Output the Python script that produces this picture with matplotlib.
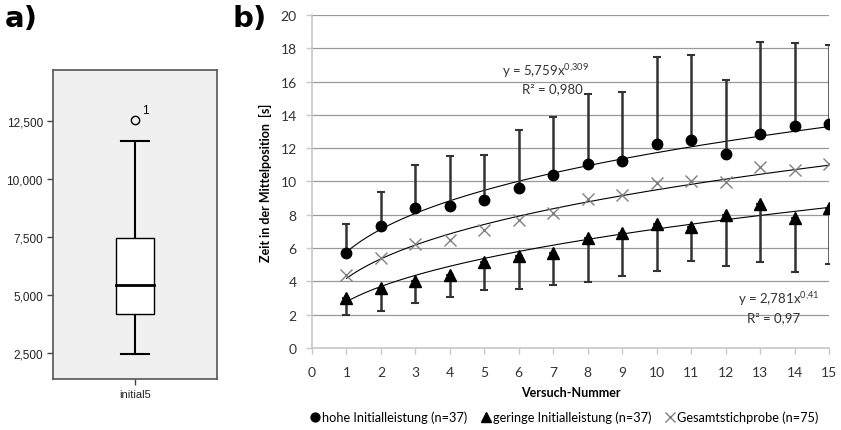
import numpy as np
import matplotlib.pyplot as plt

plt.rcParams['mathtext.fontset'] = 'custom'
plt.rcParams['mathtext.rm'] = 'Lato'
plt.rcParams['mathtext.it'] = 'Lato'

# panel a) boxplot summary of initial5
box_q1, box_med, box_q3 = 4190, 5440, 7440
whisk_lo, whisk_hi = 2460, 11610
outlier = 12540
a_ticks = [2500, 5000, 7500, 10000, 12500]
a_ticklabels = ['2,500', '5,000', '7,500', '10,000', '12,500']

# panel b) trial means
trial = np.arange(1, 16)
high = [5.72, 7.3, 8.42, 8.55, 8.9, 9.58, 10.4, 11.06, 11.26, 12.26, 12.5, 11.68, 12.83, 13.31, 13.45]
high_up = [7.46, 9.38, 10.98, 11.56, 11.58, 13.11, 13.88, 15.25, 15.35, 17.5, 17.6, 16.07, 18.38, 18.34, 18.19]
low = [2.98, 3.6, 4.0, 4.37, 5.17, 5.5, 5.72, 6.59, 6.89, 7.44, 7.29, 7.99, 8.65, 7.83, 8.4]
low_dn = [1.99, 2.2, 2.68, 3.05, 3.49, 3.57, 3.79, 3.97, 4.33, 4.63, 5.21, 4.95, 5.17, 4.55, 5.05]
total = [4.37, 5.39, 6.23, 6.47, 7.07, 7.66, 8.13, 8.96, 9.16, 9.92, 10.02, 9.96, 10.88, 10.68, 11.04]

# power-law fits shown on the chart
fit_high = (5.759, 0.309)
fit_low = (2.781, 0.41)

fig = plt.figure(figsize=(8.41, 4.31), dpi=100)

# ---- a) ----
axa = fig.add_axes([0.0634, 0.1183, 0.195, 0.717])
axa.set_facecolor('#f0f0f0')
bx = 1.0
bw = 0.23
axa.add_patch(plt.Rectangle((bx - bw / 2, box_q1), bw, box_q3 - box_q1,
                            facecolor='white', edgecolor='black', lw=1.0, zorder=3))
axa.plot([bx - bw / 2, bx + bw / 2], [box_med, box_med], color='black', lw=2, zorder=4)
axa.plot([bx, bx], [box_q3, whisk_hi], color='black', lw=1.5)
axa.plot([bx, bx], [whisk_lo, box_q1], color='black', lw=1.5)
axa.plot([bx - 0.085, bx + 0.085], [whisk_hi, whisk_hi], color='black', lw=1.5)
axa.plot([bx - 0.085, bx + 0.085], [whisk_lo, whisk_lo], color='black', lw=1.5)
axa.plot([bx], [outlier], 'o', mfc='none', mec='black', ms=6, mew=1)
axa.text(bx + 0.04, outlier + 150, '1', fontsize=8.5, family='Liberation Sans', va='bottom')
axa.set_xlim(0.5, 1.5)
axa.set_ylim(1380, 14680)
axa.set_yticks(a_ticks)
axa.set_yticklabels(a_ticklabels, fontsize=8.5, family='Liberation Sans', color='#222222')
axa.set_xticks([bx])
axa.set_xticklabels(['initial5'], fontsize=8, family='Liberation Sans', color='#222222')
axa.tick_params(length=4, width=1, color='#444444')
for s in axa.spines.values():
    s.set_color('#555555')
    s.set_linewidth(1.2)

fig.text(0.006, 0.988, 'a)', fontsize=21, fontweight='bold', va='top',
         family=['Liberation Sans Narrow', 'DejaVu Sans'])
fig.text(0.276, 0.988, 'b)', fontsize=21, fontweight='bold', va='top',
         family=['Liberation Sans Narrow', 'DejaVu Sans'])

# ---- b) ----
fnt = 'Lato'
axb = fig.add_axes([0.371, 0.1903, 0.6147, 0.7726])
axb.set_xlim(0, 15)
axb.set_ylim(0, 20)
axb.set_yticks(range(0, 21, 2))
axb.set_xticks(range(0, 16))
axb.grid(axis='y', color='#999999', lw=0.9)
axb.set_axisbelow(True)
for s in ['top', 'right']:
    axb.spines[s].set_visible(False)
for s in ['left', 'bottom']:
    axb.spines[s].set_color('#c8c8c8')
    axb.spines[s].set_linewidth(1.2)
axb.tick_params(length=4, width=1, color='#c8c8c8', labelsize=10, labelcolor='#333333')
axb.tick_params(axis='x', pad=9)
axb.tick_params(axis='y', pad=7)
for lab in axb.get_xticklabels() + axb.get_yticklabels():
    lab.set_family(fnt)

high = np.array(high)
low = np.array(low)
xs = np.linspace(1, 15, 200)

# trend lines
axb.plot(xs, fit_high[0] * xs ** fit_high[1], color='black', lw=0.8, zorder=2)
axb.plot(xs, fit_low[0] * xs ** fit_low[1], color='black', lw=0.8, zorder=2)
b, loga = np.polyfit(np.log(trial), np.log(total), 1)
axb.plot(xs, np.exp(loga) * xs ** b, color='black', lw=0.8, zorder=2)

# error bars
axb.errorbar(trial, high, yerr=[np.zeros(15), np.array(high_up) - high], fmt='none',
             ecolor='#333333', elinewidth=1.8, capsize=3, capthick=1.5, zorder=3)
axb.errorbar(trial, low, yerr=[low - np.array(low_dn), np.zeros(15)], fmt='none',
             ecolor='#333333', elinewidth=1.8, capsize=3, capthick=1.5, zorder=3)

h1, = axb.plot(trial, high, 'o', color='black', ms=7.5, zorder=4, ls='none')
h2, = axb.plot(trial, low, '^', color='black', ms=8, zorder=4, ls='none')
h3, = axb.plot(trial, total, 'x', color='#808080', ms=8, mew=1.0, zorder=4, ls='none')

eq = dict(fontsize=9.5, family=fnt, color='#333333')
axb.text(5.5, 16.4, r'y = 5,759x$^{\mathregular{0{,}309}}$', ha='left', **eq)
axb.text(7.85, 15.35, 'R² = 0,980', ha='right', **eq)
axb.text(12.35, 2.7, r'y = 2,781x$^{\mathregular{0{,}41}}$', ha='left', **eq)
axb.text(14.15, 1.6, 'R² = 0,97', ha='right', **eq)

axb.set_ylabel('Zeit in der Mittelposition  [s]', fontsize=9, fontweight='bold', family=fnt, labelpad=6)
axb.set_xlabel('Versuch-Nummer', fontsize=9, fontweight='bold', family=fnt, labelpad=6)

fig.legend([h1, h2, h3],
           ['hohe Initialleistung (n=37)', 'geringe Initialleistung (n=37)', 'Gesamtstichprobe (n=75)'],
           loc='center', bbox_to_anchor=(0.67, 0.03), ncol=3, frameon=False,
           prop={'family': fnt, 'size': 9.2}, handletextpad=0.0, columnspacing=1.0,
           handlelength=1.0, markerscale=0.85)

fig.savefig('out.png', dpi=100)
